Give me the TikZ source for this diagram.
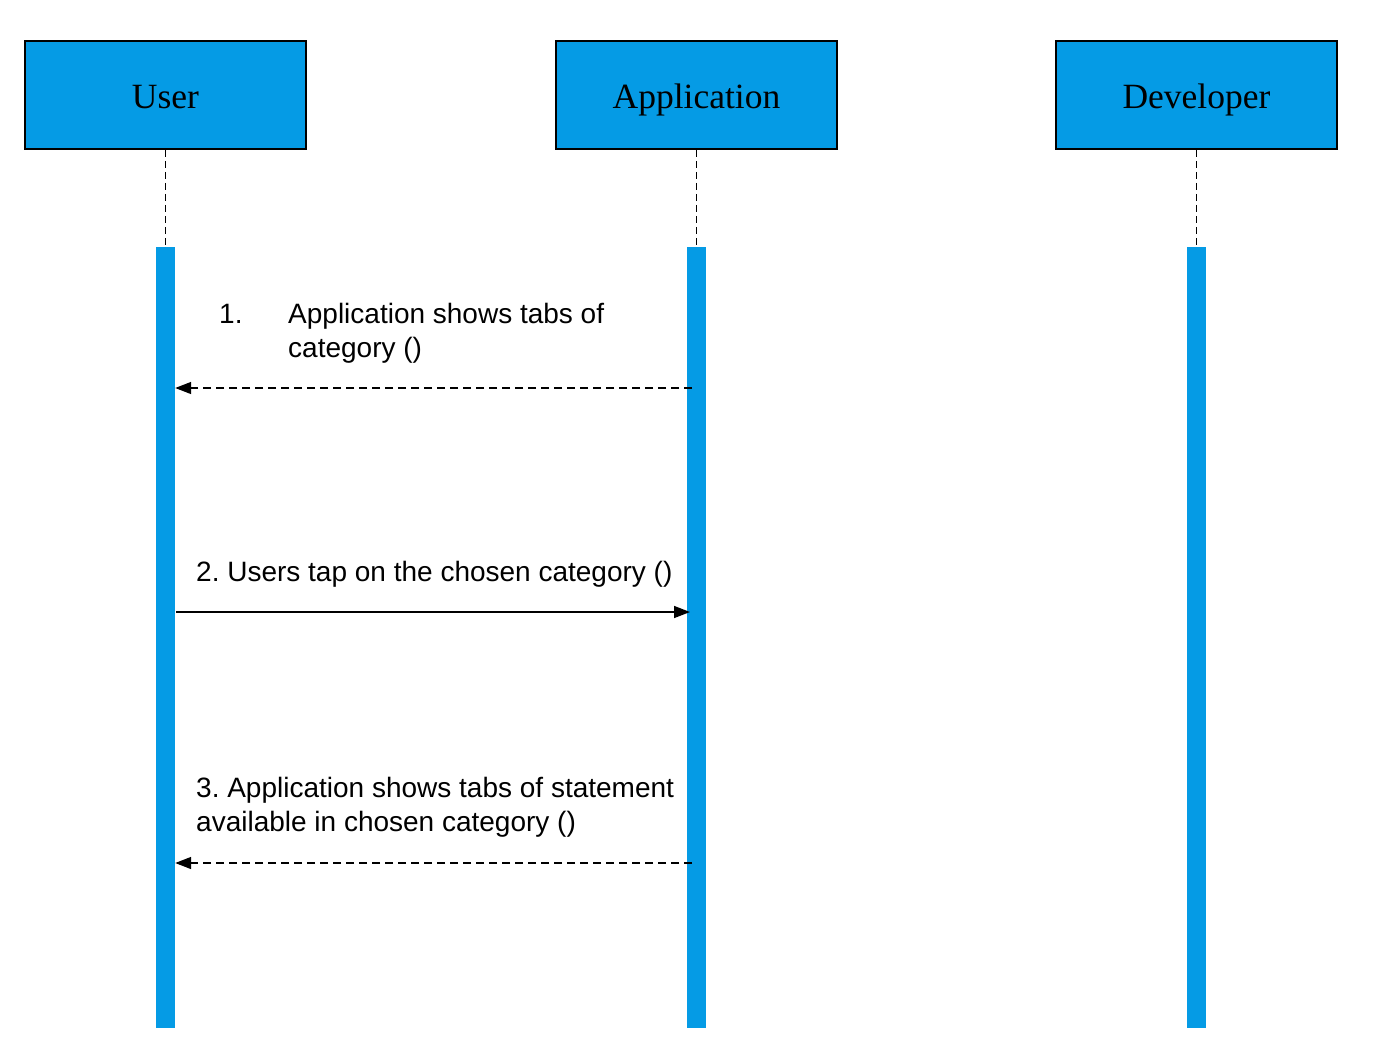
\documentclass[tikz,border=0pt]{standalone}
\usepackage{fontspec}
\setmainfont{Liberation Serif}
\setsansfont{Liberation Sans}
\usetikzlibrary{arrows.meta}
\definecolor{lifeblue}{RGB}{5,155,229}
\frenchspacing
\begin{document}
\begin{tikzpicture}[x=1pt,y=-1pt,
  actorbox/.style={draw=black,line width=1.5pt,fill=lifeblue,minimum width=281pt,minimum height=108pt,inner sep=0pt},
  actortext/.style={font=\fontsize{35.5}{40}\selectfont,anchor=base,inner sep=0pt},
  actbar/.style={fill=lifeblue,draw=none,minimum width=19pt,minimum height=781pt,inner sep=0pt},
  lifeline/.style={dash pattern=on 7pt off 4pt,line width=1.8pt},
  msgtext/.style={font=\sffamily\fontsize{28}{34}\selectfont,anchor=base west,inner sep=0pt},
  tip/.style={-{Triangle[length=16pt,width=12pt]}},
  reply/.style={tip,dash pattern=on 8pt off 5pt,line width=1.5pt},
  call/.style={tip,line width=1.5pt}]
\useasboundingbox (0,0) rectangle (1382,1050);
% actor boxes
\node[actorbox] (user) at (165.5,95) {};
\node[actorbox] (app) at (696.5,95) {};
\node[actorbox] (dev) at (1196.5,95) {};
\node[actortext] (usert) at (165.5,108) {User};
\node[actortext] (appt) at (696.5,108) {Application};
\node[actortext] (devt) at (1196.5,108) {Developer};
% activation bars
\node[actbar] (ubar) at (165.5,637.5) {};
\node[actbar] (abar) at (696.5,637.5) {};
\node[actbar] (dbar) at (1196.5,637.5) {};
% lifelines
\draw[lifeline] (user.south) -- (ubar.north);
\draw[lifeline] (app.south) -- (abar.north);
\draw[lifeline] (dev.south) -- (dbar.north);
% messages
\coordinate (m1) at (692,388);
\coordinate (m2) at (176,612);
\coordinate (m2e) at (690,612);
\coordinate (m3) at (692,863);
\draw[reply] (m1) -- (ubar.east |- m1);
\draw[call] (m2) -- (m2e);
\draw[reply] (m3) -- (ubar.east |- m3);
% labels
\node[msgtext] (l1n) at (219,323) {1.};
\node[msgtext] (l1a) at (288,323) {Application shows tabs of};
\node[msgtext] (l1b) at (288,357) {category ()};
\node[msgtext] (l2) at (196,581) {2. Users tap on the chosen category ()};
\node[msgtext] (l3a) at (196,797) {3. Application shows tabs of statement};
\node[msgtext] (l3b) at (196,831) {available in chosen category ()};
\end{tikzpicture}
\end{document}
